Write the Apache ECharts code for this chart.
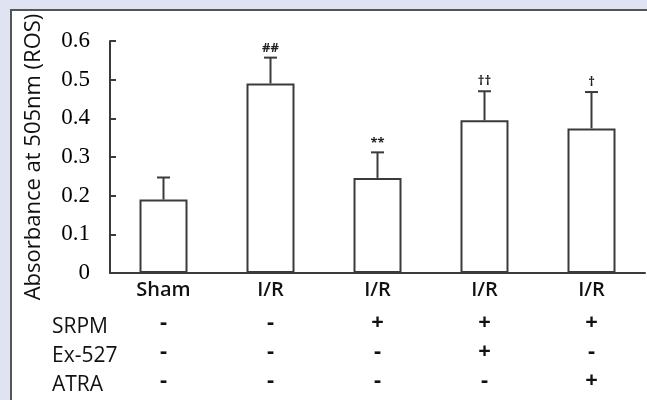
<!DOCTYPE html>
<html>
<head>
<meta charset="utf-8">
<script src="https://cdn.jsdelivr.net/npm/echarts@6/dist/echarts.min.js"></script>
<style>
html,body{margin:0;padding:0;background:#dfe3f2;}
#c{width:647px;height:400px;}
</style>
</head>
<body>
<div id="c"></div>
<script>
var categories = ['Sham', 'I/R', 'I/R', 'I/R', 'I/R'];
var means = [0.19, 0.49, 0.246, 0.395, 0.374];
var errors = [0.057, 0.067, 0.066, 0.075, 0.094];
var marks = ['', '##', '**', '\u2020\u2020', '\u2020'];
var rowNames = ['SRPM', 'Ex-527', 'ATRA'];
var srpm = ['-', '-', '+', '+', '+'];
var ex527 = ['-', '-', '-', '+', '-'];
var atra = ['-', '-', '-', '-', '+'];
var yTicks = [0, 0.1, 0.2, 0.3, 0.4, 0.5, 0.6];

var signRows = [srpm, ex527, atra];
var rowCenters = [327, 356, 385];
var axisY = 273;
var ink = '#3a3a3a';
var sans = '"Open Sans", "Noto Sans", sans-serif';

var chart = echarts.init(document.getElementById('c'), null, {renderer: 'canvas'});

var xAxes = [{
  type: 'category',
  data: categories,
  gridIndex: 0,
  position: 'bottom',
  axisLine: {lineStyle: {color: ink, width: 2}},
  axisTick: {inside: true, length: 6, lineStyle: {color: ink, width: 2}},
  axisLabel: {color: '#111', fontFamily: sans, fontSize: 20, fontWeight: 600, margin: 7}
}];
signRows.forEach(function (row, i) {
  xAxes.push({
    type: 'category',
    data: row,
    gridIndex: 0,
    position: 'bottom',
    offset: rowCenters[i] - axisY - 15,
    axisLine: {show: false},
    axisTick: {show: false},
    axisLabel: {color: '#111', fontFamily: sans, fontSize: 22, fontWeight: 700, margin: 0}
  });
});

var graphics = [{
  type: 'rect',
  left: 10, top: 9,
  shape: {width: 700, height: 500},
  style: {fill: '#ffffff', stroke: '#555555', lineWidth: 2},
  z: -10
}];
rowNames.forEach(function (name, i) {
  graphics.push({
    type: 'text',
    x: 52,
    y: rowCenters[i],
    style: {text: name, fill: '#111', font: '400 21px ' + sans, textVerticalAlign: 'middle', verticalAlign: 'middle'}
  });
});

chart.setOption({
  backgroundColor: '#dfe3f2',
  animation: false,
  graphic: graphics,
  grid: {left: 110, right: 2, top: 41, bottom: 400 - axisY, containLabel: false},
  xAxis: xAxes,
  yAxis: {
    type: 'value',
    min: 0, max: 0.6, interval: 0.1,
    name: 'Absorbance at 505nm (ROS)',
    nameLocation: 'middle',
    nameGap: 65,
    nameTextStyle: {color: '#111', fontFamily: sans, fontSize: 22},
    axisLine: {show: true, lineStyle: {color: ink, width: 2}},
    axisTick: {show: true, inside: true, length: 6, lineStyle: {color: ink, width: 2}},
    axisLabel: {color: '#000', fontFamily: '"Liberation Serif", serif', fontSize: 23, margin: 20,
      formatter: function (v) { return String(+v.toFixed(1)); }},
    splitLine: {show: false}
  },
  series: [{
    type: 'bar',
    data: means,
    barWidth: 48,
    itemStyle: {color: '#ffffff', borderColor: ink, borderWidth: 2},
    z: 2
  }, {
    type: 'custom',
    data: means.map(function (m, i) { return [i, m, m + errors[i]]; }),
    renderItem: function (params, api) {
      var i = api.value(0);
      var base = api.coord([i, api.value(1)]);
      var top = api.coord([i, api.value(2)]);
      var half = 6.5;
      return {
        type: 'group',
        children: [{
          type: 'line',
          shape: {x1: base[0], y1: base[1], x2: top[0], y2: top[1]},
          style: {stroke: ink, lineWidth: 2}
        }, {
          type: 'line',
          shape: {x1: top[0] - half, y1: top[1], x2: top[0] + half, y2: top[1]},
          style: {stroke: ink, lineWidth: 2}
        }, {
          type: 'text',
          x: top[0], y: top[1] - 3,
          style: {text: marks[i], fill: '#222', font: '700 13px ' + sans, align: 'center', verticalAlign: 'bottom'}
        }]
      };
    },
    z: 3
  }]
});
</script>
</body>
</html>
